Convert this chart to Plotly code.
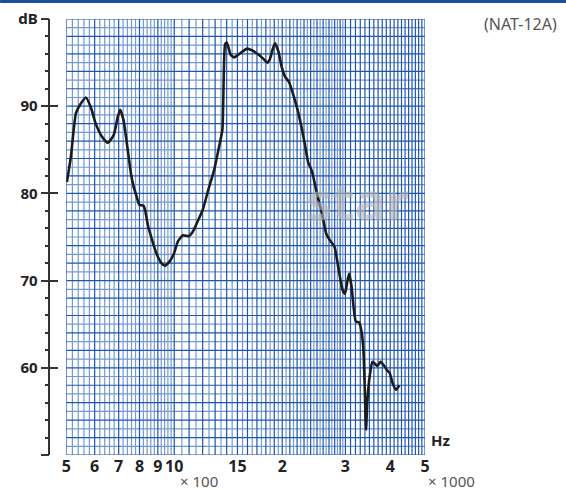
import plotly.graph_objects as go

# Frequency response of the NAT-12A (Hz, dB SPL)
freq_hz = [502, 515, 532, 549, 567, 585, 604, 629, 653, 678, 696, 707, 722, 738,
           757, 770, 786, 799, 820, 829, 846, 864, 892, 921, 941, 971, 998, 1024,
           1057, 1098, 1126, 1162, 1200, 1244, 1292, 1334, 1362, 1369, 1377, 1386,
           1400, 1415, 1436, 1467, 1508, 1547, 1596, 1648, 1720, 1775, 1821, 1851,
           1883, 1910, 1952, 1993, 2035, 2088, 2147, 2206, 2263, 2311, 2361, 2422,
           2462, 2525, 2581, 2652, 2708, 2795, 2843, 2885, 2948, 2992, 3043, 3074,
           3121, 3161, 3208, 3276, 3332, 3368, 3396, 3424, 3455, 3505, 3566, 3618,
           3681, 3758, 3838, 3922, 3987, 4063, 4152, 4240]
level_db = [81.3, 84.2, 89.2, 90.3, 91.0, 89.9, 88.0, 86.5, 85.8, 86.7, 88.8, 89.6,
            88.4, 85.7, 82.3, 80.8, 79.6, 78.7, 78.6, 78.1, 76.2, 74.9, 73.1, 72.0,
            71.7, 72.2, 73.1, 74.5, 75.2, 75.1, 75.6, 76.8, 78.1, 80.4, 82.7, 85.4,
            87.3, 90.3, 95.3, 97.1, 97.3, 96.8, 95.9, 95.6, 95.9, 96.25, 96.6, 96.4,
            95.9, 95.4, 95.0, 95.5, 96.6, 97.2, 96.25, 94.5, 93.4, 92.8, 91.3, 89.6,
            87.6, 85.7, 83.6, 82.5, 81.2, 79.2, 77.7, 75.4, 74.7, 73.9, 72.4, 70.8,
            68.9, 68.5, 70.1, 70.8, 69.3, 67.0, 65.3, 65.2, 64.0, 62.0, 57.8, 52.9,
            56.3, 59.0, 60.7, 60.5, 60.2, 60.7, 60.3, 59.7, 59.4, 58.2, 57.5, 58.0]

x_tick_vals = [500, 600, 700, 800, 900, 1000, 1500, 2000, 3000, 4000, 5000]
x_tick_text = ["5", "6", "7", "8", "9", "10", "15", "2", "3", "4", "5"]
y_tick_vals = [50, 60, 70, 80, 90, 100]
y_tick_text = ["", "60", "70", "80", "90", "dB"]
y_minor_vals = [v for v in range(52, 100, 2) if v % 10]

F_MIN, F_MAX = 500, 5000
DB_MIN, DB_MAX = 50, 100

# chart-paper rulings: fine steps that widen with frequency
grid_freqs = (list(range(500, 1000, 20)) + list(range(1000, 2000, 50))
              + list(range(2000, 3000, 50)) + list(range(3000, 5001, 100)))
grid_levels = list(range(DB_MIN, DB_MAX + 1))

DARK = "#1d55b2"
LIGHT = "#7499d2"


def vlines(freqs):
    xs, ys = [], []
    for f in freqs:
        xs += [f, f, None]
        ys += [DB_MIN, DB_MAX, None]
    return xs, ys


def hlines(levels):
    xs, ys = [], []
    for v in levels:
        xs += [F_MIN, F_MAX, None]
        ys += [v, v, None]
    return xs, ys


dark_v = [f for f in grid_freqs if f % 100 == 0]
light_v = [f for f in grid_freqs if f % 100 != 0]
dark_h = [v for v in grid_levels if v % 2 == 0]
light_h = [v for v in grid_levels if v % 2 == 1]

fig = go.Figure()
for (fn, vals, col, w) in [(vlines, light_v, LIGHT, 1.2), (hlines, light_h, LIGHT, 1.2),
                           (vlines, dark_v, DARK, 1.2), (hlines, dark_h, DARK, 1.2)]:
    xs, ys = fn(vals)
    fig.add_trace(go.Scatter(x=xs, y=ys, mode="lines", line=dict(color=col, width=w),
                             hoverinfo="skip", showlegend=False))

fig.add_trace(go.Scatter(x=freq_hz, y=level_db, mode="lines",
                         line=dict(color="#1c1c1c", width=2.6, shape="spline", smoothing=0.5),
                         showlegend=False))
# carrier for the inner half of the dB ruler ticks
fig.add_trace(go.Scatter(x=[F_MIN], y=[DB_MIN], yaxis="y2", mode="markers",
                         marker=dict(opacity=0), hoverinfo="skip", showlegend=False))

W, H = 566, 490
L, R, T, B = 0, 141, 19, 35
plot_w = W - L - R
plot_h = H - T - B
AX_X = 45 / plot_w


def px(x, y):
    """Pixel position -> paper coordinates of the plot area."""
    return (x - L) / plot_w, (H - B - y) / plot_h


label_font = dict(family="Noto Sans", size=15, color="#222222", weight="bold")
ruler = dict(range=[DB_MIN, DB_MAX], anchor="free", position=AX_X, showgrid=False,
             zeroline=False, tickvals=y_tick_vals, ticklen=8, tickwidth=1.5,
             tickcolor="#333333",
             minor=dict(tickvals=y_minor_vals, ticklen=4, tickwidth=1.5, tickcolor="#333333"))


def note(text, x, y, font, **kw):
    px_x, px_y = px(x, y)
    return dict(text=text, xref="paper", yref="paper", x=px_x, y=px_y,
                xanchor="center", yanchor="middle", showarrow=False, font=font, **kw)


fig.update_layout(
    width=W, height=H,
    margin=dict(l=L, r=R, t=T, b=B),
    paper_bgcolor="white", plot_bgcolor="white",
    xaxis=dict(type="log", range=[2.69897, 3.69897], domain=[62 / plot_w, 1],
               tickvals=x_tick_vals, ticktext=x_tick_text, ticks="",
               showgrid=False, zeroline=False, showline=False,
               tickfont=dict(family="Noto Sans", size=16, color="#222222", weight="bold")),
    yaxis=dict(**ruler, ticks="outside", ticktext=y_tick_text, showline=True,
               linecolor="#333333", linewidth=1.6, tickfont=label_font),
    yaxis2=dict(**ruler, overlaying="y", ticks="inside", showticklabels=False,
                showline=False),
    shapes=[dict(type="rect", xref="paper", yref="paper",
                 x0=px(-5, 0)[0], x1=px(W + 5, 0)[0],
                 y0=px(0, 3)[1], y1=px(0, -2)[1],
                 fillcolor="#1b4f9c", line=dict(width=0))],
    annotations=[
        note("Hz", 441, 440, dict(family="Noto Sans", size=15, color="#222222", weight="bold")),
        note("× 100", 196, 481, dict(family="Noto Sans", size=15, color="#555555")),
        note("× 1000", 452, 481, dict(family="Noto Sans", size=15, color="#555555")),
        note("(NAT-12A)", 522, 24, dict(family="Noto Sans", size=16, color="#555555")),
        note("star", 357, 199, dict(family="Noto Sans", size=52, color="#b4b4b4", weight="bold"),
             opacity=0.6),
    ],
)

fig.write_html("out.html")
